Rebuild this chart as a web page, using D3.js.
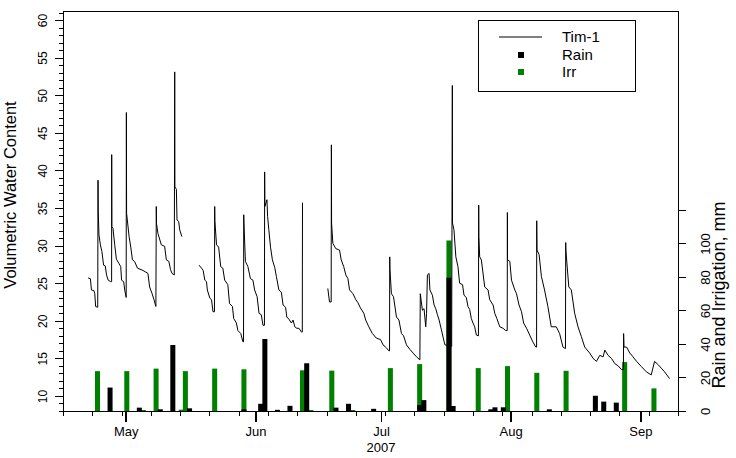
<!DOCTYPE html>
<html>
<head>
<meta charset="utf-8">
<script src="https://cdn.jsdelivr.net/npm/d3@7"></script>
<style>
body { margin: 0; background: #fff; }
svg text { font-family: "Liberation Sans", Arial, sans-serif; fill: #000; }
.axis path, .axis line { stroke: #000; shape-rendering: crispEdges; }
</style>
</head>
<body>
<svg id="chart" width="736" height="458"></svg>
<script>
// Tim-1 sensor record, [day of year 2007, volumetric water content]; three logged segments
const timSeg1 = [[112.0,25.7],[112.55,25.6],[112.8,24.1],[113.4,24.0],[113.6,23.6],[113.8,21.9],[114.3,21.8],[114.37,38.7],[114.42,34.5],[114.6,31.4],[114.94,30.1],[115.3,29.2],[115.7,27.4],[116.1,27.3],[116.4,26.1],[116.8,25.4],[117.4,25.2],[117.62,25.2],[117.64,42.1],[117.68,32.5],[117.95,32.3],[118.36,30.1],[118.76,28.2],[119.4,27.6],[119.8,27.2],[120.0,25.4],[120.5,25.2],[120.75,24.1],[121.1,23.1],[121.15,47.7],[121.2,34.3],[121.8,31.2],[122.2,29.8],[122.6,28.1],[123.1,27.9],[123.8,27.0],[125.1,26.7],[126.3,26.3],[126.7,24.5],[127.3,23.6],[127.75,22.8],[128.2,21.9],[128.3,35.2],[128.35,32.9],[128.7,31.6],[129.5,30.1],[130.3,29.9],[130.7,28.1],[131.3,27.9],[131.7,26.8],[132.05,26.3],[132.6,26.1],[132.7,53.1],[132.75,37.8],[133.1,37.5],[133.25,33.4],[133.65,33.2],[133.9,32.1],[134.4,31.2]];
const timSeg2 = [[138.5,27.4],[139.1,27.0],[139.5,26.7],[139.9,25.4],[140.3,25.2],[140.5,24.1],[141.1,23.0],[141.5,22.8],[141.85,21.2],[142.2,21.2],[142.26,35.2],[142.3,33.3],[142.7,30.1],[143.2,29.8],[143.7,27.2],[144.2,27.0],[144.65,25.4],[145.4,24.8],[145.8,22.3],[146.5,21.9],[146.8,20.3],[147.45,19.7],[147.8,18.7],[148.5,18.3],[149.0,17.2],[149.15,17.2],[149.2,34.1],[149.25,33.0],[149.6,27.9],[150.2,27.2],[150.8,25.6],[151.4,25.4],[151.8,24.1],[152.4,23.2],[152.85,21.0],[153.4,20.8],[153.8,19.4],[154.15,19.4],[154.2,39.8],[154.25,35.2],[154.75,36.1],[154.9,33.9],[155.2,32.1],[155.6,29.8],[156.05,28.1],[156.6,27.1],[157.0,25.9],[157.6,24.1],[158.2,23.8],[158.6,22.1],[159.2,21.8],[159.5,20.5],[160.0,20.2],[160.6,19.7],[161.0,20.1],[161.4,19.2],[161.9,19.0],[162.4,19.0],[163.0,18.5],[163.2,18.5],[163.22,27.4],[163.25,35.7]];
const timSeg3 = [[169.3,24.3],[169.7,22.5],[170.1,22.5],[170.15,43.4],[170.2,33.0],[170.5,30.3],[171.2,29.6],[172.1,29.4],[172.5,28.1],[173.1,27.2],[173.6,26.1],[174.1,25.6],[174.5,24.1],[175.3,23.6],[176.0,22.8],[176.5,22.4],[177.1,21.7],[177.9,21.0],[178.35,20.1],[179.1,19.2],[179.95,18.3],[180.9,17.7],[181.9,17.5],[182.5,16.8],[183.3,16.4],[183.9,16.0],[184.05,16.0],[184.1,28.5],[184.15,26.8],[184.5,23.6],[185.0,23.2],[185.7,20.5],[186.3,20.1],[186.9,18.3],[187.4,18.0],[188.1,16.8],[188.9,16.2],[189.7,15.7],[190.5,15.2],[191.3,14.8],[191.4,23.6],[191.9,21.4],[192.3,21.6],[192.7,19.2],[192.9,21.0],[193.1,26.1],[193.5,26.3],[193.7,24.1],[194.3,23.4],[194.7,22.1],[195.1,21.6],[195.5,20.8],[195.9,20.1],[196.45,18.8],[197.1,17.2],[197.3,16.8],[198.9,16.6],[199.06,51.3],[199.1,33.0],[199.45,32.1],[199.9,28.5],[200.4,27.2],[200.8,25.0],[201.5,24.8],[201.85,23.4],[202.4,23.1],[202.8,21.9],[203.2,21.5],[203.6,20.3],[204.0,19.7],[204.4,19.2],[204.8,18.1],[205.3,18.0],[205.36,35.4],[205.4,31.2],[205.6,28.5],[206.0,28.1],[206.8,24.5],[207.6,24.1],[208.0,22.8],[208.8,22.1],[209.2,21.0],[209.7,20.3],[210.4,19.2],[211.2,19.0],[211.8,18.7],[212.18,18.7],[212.22,34.4],[212.25,28.1],[212.8,27.9],[213.2,25.4],[214.0,24.1],[214.4,23.6],[215.0,22.1],[215.6,21.2],[216.1,19.7],[216.8,19.0],[217.55,18.1],[218.3,17.2],[219.0,16.5],[219.2,16.5],[219.23,33.3],[219.3,29.4],[219.8,28.8],[220.35,25.9],[221.1,24.1],[221.9,21.9],[222.7,19.2],[223.9,19.2],[224.7,18.3],[225.5,16.5],[226.1,16.3],[226.16,30.4],[226.2,29.4],[226.9,24.5],[227.5,24.1],[228.3,21.0],[229.1,19.2],[229.9,17.9],[230.7,16.5],[231.9,15.7],[232.7,15.0],[233.5,14.6],[234.3,15.4],[235.1,15.2],[235.5,16.1],[236.3,15.4],[237.1,15.0],[237.9,14.3],[238.7,14.0],[239.5,13.5],[239.95,13.5],[240.0,18.3],[240.1,16.5],[240.7,16.5],[241.5,15.7],[242.25,15.2],[243.1,14.6],[244.25,13.9],[245.45,13.2],[246.6,12.8],[247.4,14.6],[248.2,14.2],[249.0,13.7],[249.8,13.2],[251.0,12.3]];

// daily totals, mm
const irrDates = ["2007-04-24","2007-05-01","2007-05-05","2007-05-08","2007-05-14","2007-05-15","2007-05-22","2007-05-29","2007-06-12","2007-06-14","2007-06-19","2007-06-24","2007-07-03","2007-07-10","2007-07-17","2007-07-24","2007-07-31","2007-08-07","2007-08-14","2007-08-28","2007-09-04"];
const irrMm = [23.8,23.8,0.6,25.3,0.8,23.8,25.3,24.9,24.3,0.6,24.1,0.6,25.6,28.0,101.8,25.6,26.8,22.8,24.0,29.2,13.5];
const rainDates = ["2007-04-27","2007-05-04","2007-05-09","2007-05-12","2007-05-16","2007-05-29","2007-06-02","2007-06-03","2007-06-06","2007-06-09","2007-06-13","2007-06-20","2007-06-23","2007-06-29","2007-07-10","2007-07-11","2007-07-17","2007-07-18","2007-07-27","2007-07-28","2007-07-30","2007-08-10","2007-08-21","2007-08-23","2007-08-26"];
const rainMm = [14.0,2.0,1.0,39.4,1.6,1.0,4.3,43.0,0.7,3.1,28.5,2.0,4.3,1.3,3.6,6.5,79.6,3.0,1.0,2.2,2.2,1.0,9.1,5.6,5.0];

const vwcMajorTicks = [10, 15, 20, 25, 30, 35, 40, 45, 50, 55, 60];
const rainTicks = [0, 20, 40, 60, 80, 100, 120];
const rainTickLabels = ["0", "20", "40", "60", "80", "100", ""];
const monthTicks = ["2007-05-01", "2007-06-01", "2007-07-01", "2007-08-01", "2007-09-01"];
const monthLabels = ["May", "Jun", "Jul", "Aug", "Sep"];
const seriesNames = ["Tim-1", "Rain", "Irr"];

const margin = {top: 11, right: 58, bottom: 47, left: 63};
const width = 736 - margin.left - margin.right;
const height = 458 - margin.top - margin.bottom;

const parseDay = d3.timeParse("%Y-%m-%d");
const fromDoy = doy => new Date(2007, 0, 1).getTime() + (doy - 1) * 864e5;

const svg = d3.select("#chart");
const g = svg.append("g").attr("transform", `translate(${margin.left},${margin.top})`);

const x = d3.scaleTime()
    .domain([new Date(2007, 3, 16), new Date(2007, 8, 10)])
    .range([0, width]);
const y = d3.scaleLinear().domain([8, 61.2]).range([height, 0]);
const yRain = d3.scaleLinear().domain([0, 238.8]).range([height, 0]);

// bars (irrigation behind rain)
const barW = (x(new Date(2007, 3, 17)) - x(new Date(2007, 3, 16))) * 1.2;
const barX = s => x(d3.timeHour.offset(parseDay(s), 6)) - barW / 2;

g.append("g").selectAll("rect.irr")
    .data(irrDates.map((d, i) => ({date: d, mm: irrMm[i]})))
    .join("rect")
    .attr("class", "irr")
    .attr("x", d => barX(d.date))
    .attr("width", barW)
    .attr("y", d => yRain(d.mm))
    .attr("height", d => height - yRain(d.mm))
    .attr("fill", "#008000");

g.append("g").selectAll("rect.rain")
    .data(rainDates.map((d, i) => ({date: d, mm: rainMm[i]})))
    .join("rect")
    .attr("class", "rain")
    .attr("x", d => barX(d.date))
    .attr("width", barW)
    .attr("y", d => yRain(d.mm))
    .attr("height", d => height - yRain(d.mm))
    .attr("fill", "#000");

// Tim-1 line
const line = d3.line()
    .x(d => x(fromDoy(d[0])))
    .y(d => y(d[1]));

g.append("g").selectAll("path.tim")
    .data([timSeg1, timSeg2, timSeg3])
    .join("path")
    .attr("class", "tim")
    .attr("d", line)
    .attr("fill", "none")
    .attr("stroke", "#000")
    .attr("stroke-width", 1);

// frame
g.append("rect")
    .attr("width", width).attr("height", height)
    .attr("fill", "none").attr("stroke", "#000")
    .attr("shape-rendering", "crispEdges");

// left axis: minor and major ticks
g.append("g").attr("class", "axis")
    .call(d3.axisLeft(y).tickValues(d3.range(8, 62)).tickSize(4).tickFormat(""))
    .call(a => a.select(".domain").remove());
const yAxisG = g.append("g").attr("class", "axis")
    .call(d3.axisLeft(y).tickValues(vwcMajorTicks).tickSize(8).tickSizeOuter(0));
yAxisG.select(".domain").remove();
yAxisG.selectAll(".tick text")
    .attr("transform", "rotate(-90)")
    .attr("x", 0).attr("y", -16).attr("dy", 0)
    .style("text-anchor", "middle")
    .style("font-size", "12px");

// right axis
const rAxisG = g.append("g").attr("class", "axis")
    .attr("transform", `translate(${width},0)`)
    .call(d3.axisRight(yRain).tickValues(rainTicks).tickSize(8)
        .tickFormat((d, i) => rainTickLabels[i]));
rAxisG.select(".domain").remove();
rAxisG.selectAll(".tick text")
    .attr("transform", "rotate(-90)")
    .attr("x", 0).attr("y", 32).attr("dy", 0)
    .style("text-anchor", "middle")
    .style("font-size", "13px");

// bottom axis: weekly (Monday) ticks plus month ticks
g.append("g").attr("class", "axis")
    .attr("transform", `translate(0,${height})`)
    .call(d3.axisBottom(x).ticks(d3.timeMonday.every(1)).tickSize(5).tickFormat(""))
    .call(a => a.select(".domain").remove());
const xAxisG = g.append("g").attr("class", "axis")
    .attr("transform", `translate(0,${height})`)
    .call(d3.axisBottom(x).tickValues(monthTicks.map(parseDay)).tickSize(11)
        .tickFormat((d, i) => monthLabels[i]));
xAxisG.select(".domain").remove();
xAxisG.selectAll(".tick line").attr("stroke-width", 1.6);
xAxisG.selectAll(".tick text")
    .attr("y", 16).attr("dy", "0.71em")
    .style("font-size", "13px");

g.append("text")
    .attr("x", x(parseDay(monthTicks[2])))
    .attr("y", height + 41)
    .style("text-anchor", "middle")
    .style("font-size", "13px")
    .text("2007");

// axis titles
svg.append("text")
    .attr("transform", "translate(16,195) rotate(-90)")
    .style("text-anchor", "middle")
    .style("font-size", "16.5px")
    .text("Volumetric Water Content");

svg.append("text")
    .attr("transform", "translate(725,295) rotate(-90)")
    .style("text-anchor", "middle")
    .style("font-size", "18px")
    .text("Rain and Irrigation, mm");

// legend
const legend = svg.append("g").attr("transform", "translate(478,20)");
legend.append("rect")
    .attr("width", 157).attr("height", 71)
    .attr("fill", "#fff").attr("stroke", "#000")
    .attr("shape-rendering", "crispEdges");
legend.append("line")
    .attr("x1", 21).attr("x2", 64).attr("y1", 17).attr("y2", 17)
    .attr("stroke", "#000");
legend.append("rect").attr("x", 40).attr("y", 32).attr("width", 6).attr("height", 6).attr("fill", "#000");
legend.append("rect").attr("x", 40).attr("y", 49).attr("width", 6).attr("height", 6).attr("fill", "#008000");
legend.selectAll("text.lab")
    .data(seriesNames)
    .join("text")
    .attr("class", "lab")
    .attr("x", 84)
    .attr("y", (d, i) => 22 + i * 17.5)
    .style("font-size", "15px")
    .text(d => d);
</script>
</body>
</html>
